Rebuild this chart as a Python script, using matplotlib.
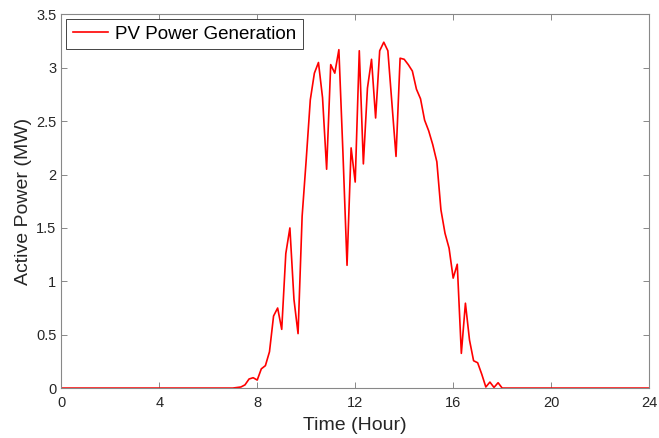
import matplotlib.pyplot as plt
import numpy as np

# 10-minute samples over one day
time_h = np.linspace(0, 24, 145)

# PV output between 7:00 and 18:00 (MW), zeros outside
pv_day = [0.0, 0.005, 0.01, 0.03, 0.085, 0.097, 0.075, 0.18, 0.21, 0.34,
          0.675, 0.75, 0.55, 1.26, 1.50, 0.83, 0.51, 1.61, 2.14, 2.70,
          2.95, 3.05, 2.72, 2.05, 3.03, 2.95, 3.17, 2.2, 1.15, 2.25,
          1.93, 3.16, 2.10, 2.81, 3.08, 2.53, 3.16, 3.24, 3.16, 2.67,
          2.17, 3.09, 3.08, 3.03, 2.97, 2.80, 2.71, 2.51, 2.41, 2.28,
          2.12, 1.67, 1.45, 1.31, 1.03, 1.16, 0.325, 0.795, 0.45, 0.256,
          0.237, 0.13, 0.01, 0.056, 0.006, 0.05, 0.0]
pv_power = [0.0] * 42 + pv_day + [0.0] * 36

x_ticks = [0, 4, 8, 12, 16, 20, 24]
y_ticks = [0, 0.5, 1, 1.5, 2, 2.5, 3, 3.5]
y_labels = ['0', '0.5', '1', '1.5', '2', '2.5', '3', '3.5']

plt.rcParams['font.family'] = ['Liberation Sans', 'DejaVu Sans']

fig = plt.figure(figsize=(6.59, 4.38), dpi=100)
ax = fig.add_axes([0.093, 0.114, 0.892, 0.853])

ax.plot(time_h, pv_power, color='red', lw=1.2, label='PV Power Generation')

ax.set_xlim(0, 24)
ax.set_ylim(0, 3.5)
ax.set_xticks(x_ticks)
ax.set_yticks(y_ticks)
ax.set_yticklabels(y_labels)
ax.tick_params(direction='in', top=True, right=True, labelsize=10.5,
               color='#888888', labelcolor='#262626', length=4, width=0.7)
ax.tick_params(axis='x', pad=6)
for s in ax.spines.values():
    s.set_color('#888888')
    s.set_linewidth(0.8)

ax.set_xlabel('Time (Hour)', fontsize=14, color='#262626', labelpad=5)
ax.set_ylabel('Active Power (MW)', fontsize=14, color='#262626', labelpad=3)

leg = ax.legend(loc='upper left', fontsize=13.5, fancybox=False, framealpha=1,
                edgecolor='#262626', handlelength=1.9, borderaxespad=0.25,
                borderpad=0.35, handletextpad=0.35)
leg.get_frame().set_linewidth(0.6)

fig.savefig('out.png', dpi=100)
